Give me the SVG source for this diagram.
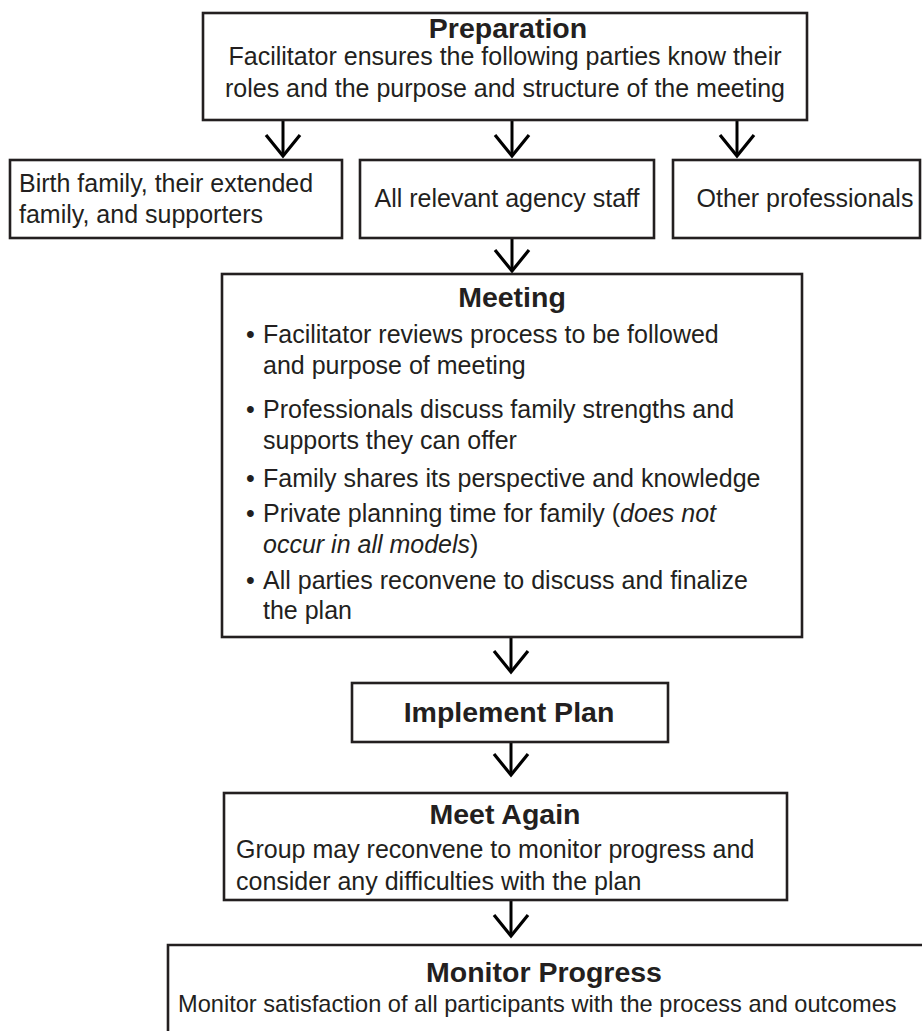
<svg xmlns="http://www.w3.org/2000/svg" width="922" height="1031" viewBox="0 0 922 1031">
<style>
.box{fill:#fff;stroke:#231f20;stroke-width:2.6}
.t{font-family:"Liberation Sans",Arial,sans-serif;font-size:25px;fill:#231f20}
.h{font-family:"Liberation Sans",Arial,sans-serif;font-size:28.5px;font-weight:bold;fill:#231f20}
.c{stroke:#000;stroke-width:3;fill:none}
</style>
<defs>
<marker id="v" markerUnits="userSpaceOnUse" viewBox="-24 -20 26 40" markerWidth="26" markerHeight="40" refX="0" refY="0" orient="auto" overflow="visible">
<path d="M-21,-17 L0,0 L-21,17" fill="none" stroke="#000" stroke-width="3.2"/>
</marker>
</defs>
<rect width="922" height="1031" fill="#fff"/>
<g id="connectors">
<line class="c" x1="283" y1="120" x2="283" y2="156" marker-end="url(#v)"/>
<line class="c" x1="512" y1="120" x2="512" y2="156" marker-end="url(#v)"/>
<line class="c" x1="737" y1="120" x2="737" y2="156" marker-end="url(#v)"/>
<line class="c" x1="512" y1="238" x2="512" y2="271" marker-end="url(#v)"/>
<line class="c" x1="511" y1="637" x2="511" y2="672" marker-end="url(#v)"/>
<line class="c" x1="511" y1="742" x2="511" y2="775" marker-end="url(#v)"/>
<line class="c" x1="511" y1="900" x2="511" y2="936" marker-end="url(#v)"/>
</g>
<g id="preparation">
<rect class="box" x="203" y="13" width="604" height="107"/>
<text class="h" x="508" y="38" text-anchor="middle">Preparation</text>
<text class="t" x="505" y="65" text-anchor="middle">Facilitator ensures the following parties know their</text>
<text class="t" x="505" y="97" text-anchor="middle">roles and the purpose and structure of the meeting</text>
</g>
<g id="birth-family">
<rect class="box" x="10" y="160" width="332" height="78"/>
<text class="t" x="19" y="192">Birth family, their extended</text>
<text class="t" x="19" y="223">family, and supporters</text>
</g>
<g id="agency-staff">
<rect class="box" x="360" y="160" width="294" height="78"/>
<text class="t" x="507" y="207" text-anchor="middle">All relevant agency staff</text>
</g>
<g id="other-professionals">
<rect class="box" x="673" y="160" width="247" height="78"/>
<text class="t" x="805" y="207" text-anchor="middle">Other professionals</text>
</g>
<g id="meeting">
<rect class="box" x="222" y="274" width="580" height="363"/>
<text class="h" x="512" y="307" text-anchor="middle">Meeting</text>
<text class="t" x="246" y="343">•</text><text class="t" x="263" y="343">Facilitator reviews process to be followed</text>
<text class="t" x="263" y="374">and purpose of meeting</text>
<text class="t" x="246" y="418">•</text><text class="t" x="263" y="418">Professionals discuss family strengths and</text>
<text class="t" x="263" y="449">supports they can offer</text>
<text class="t" x="246" y="487">•</text><text class="t" x="263" y="487">Family shares its perspective and knowledge</text>
<text class="t" x="246" y="522">•</text><text class="t" x="263" y="522">Private planning time for family (<tspan font-style="italic">does not</tspan></text>
<text class="t" x="263" y="553"><tspan font-style="italic">occur in all models</tspan>)</text>
<text class="t" x="246" y="589">•</text><text class="t" x="263" y="589">All parties reconvene to discuss and finalize</text>
<text class="t" x="263" y="619">the plan</text>
</g>
<g id="implement-plan">
<rect class="box" x="352" y="683" width="316" height="59"/>
<text class="h" x="509" y="722" text-anchor="middle">Implement Plan</text>
</g>
<g id="meet-again">
<rect class="box" x="224" y="793" width="563" height="107"/>
<text class="h" x="505" y="824" text-anchor="middle">Meet Again</text>
<text class="t" x="236" y="858">Group may reconvene to monitor progress and</text>
<text class="t" x="236" y="890">consider any difficulties with the plan</text>
</g>
<g id="monitor-progress">
<path class="box" d="M168,1033 V945 H924"/>
<text class="h" x="544" y="982" text-anchor="middle">Monitor Progress</text>
<text class="t" x="178" y="1012" style="font-size:23.6px">Monitor satisfaction of all participants with the process and outcomes</text>
</g>
</svg>
